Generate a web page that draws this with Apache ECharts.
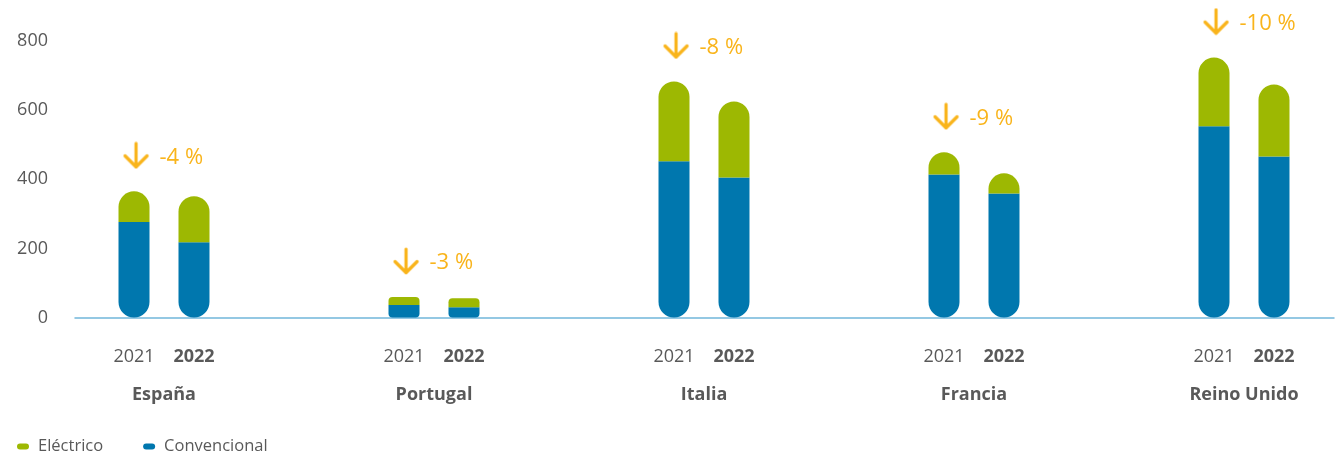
<!DOCTYPE html>
<html>
<head>
<meta charset="utf-8">
<script src="https://cdn.jsdelivr.net/npm/echarts@6/dist/echarts.min.js"></script>
<style>
html,body{margin:0;padding:0;background:#fff;}
#c{width:1341px;height:455px;}
</style>
</head>
<body>
<div id="c"></div>
<script>
// ---- data ----
const countries = ['España', 'Portugal', 'Italia', 'Francia', 'Reino Unido'];
const years = ['2021', '2022'];
const conv2021 = [276, 36, 452, 414, 553];
const elec2021 = [89, 23, 231, 64, 199];
const conv2022 = [218, 30, 405, 359, 466];
const elec2022 = [133, 26, 220, 58, 208];
const changePct = ['-4 %', '-3 %', '-8 %', '-9 %', '-10 %'];
const yMin = 0, yMax = 800, yStep = 200;

// ---- styles ----
const GREEN = '#9DB802';
const BLUE = '#0077AE';
const ORANGE = '#F9B41B';
const TEXT = '#595959';
const FONT = '"Open Sans", "Noto Sans", sans-serif';

// arrow image drawn on a canvas (synchronous)
const arrowCanvas = document.createElement('canvas');
arrowCanvas.width = 27; arrowCanvas.height = 28;
(function () {
  const g = arrowCanvas.getContext('2d');
  g.strokeStyle = ORANGE; g.lineWidth = 3.2; g.lineCap = 'round'; g.lineJoin = 'round';
  g.beginPath(); g.moveTo(13.5, 2); g.lineTo(13.5, 25); g.stroke();
  g.beginPath(); g.moveTo(2.5, 14.5); g.lineTo(13.5, 25.5); g.lineTo(24.5, 14.5); g.stroke();
})();

function items(vals, totals, top) {
  return vals.map((v, i) => {
    const r = totals[i] < 100 ? 4 : 16;
    return { value: v, itemStyle: { borderRadius: top ? [r, r, 0, 0] : [0, 0, r, r] } };
  });
}
const tot2021 = conv2021.map((v, i) => v + elec2021[i]);
const tot2022 = conv2022.map((v, i) => v + elec2022[i]);

const BAR_W = 31;
const GAP = '93.5%';
const PILL = 'path://M3,0 L9,0 A3,3 0 0 1 9,6 L3,6 A3,3 0 0 1 3,0 Z';

const chart = echarts.init(document.getElementById('c'), null, { renderer: 'canvas' });
chart.setOption({
  animation: false,
  textStyle: { fontFamily: FONT },
  grid: [
    { left: 29, width: 1350, top: 41, height: 276.5, outerBoundsMode: 'none', containLabel: false },
    { left: 75, right: 7, top: 41, height: 276.5, outerBoundsMode: 'none', containLabel: false }
  ],
  legend: {
    data: ['Eléctrico', 'Convencional'],
    left: 17, top: 438, padding: 0,
    icon: PILL, itemWidth: 12, itemHeight: 6, itemGap: 40,
    textStyle: { color: TEXT, fontSize: 16.5, fontFamily: FONT, padding: [0, 0, 0, 4] }
  },
  xAxis: [
    {
      type: 'category', gridIndex: 0, data: countries,
      axisLine: { show: false }, axisTick: { show: false },
      axisLabel: {
        margin: 27.5, interval: 0,
        formatter: c => `{a|${years[0]}}{b|${years[1]}}\n{c|${c}}`,
        rich: {
          a: { width: 60, align: 'center', fontSize: 18, color: TEXT, lineHeight: 24, fontFamily: FONT },
          b: { width: 60, align: 'center', fontSize: 18, color: TEXT, lineHeight: 24, fontWeight: 'bold', fontFamily: FONT },
          c: { width: 120, align: 'center', fontSize: 18, color: TEXT, lineHeight: 52, fontWeight: 'bold', fontFamily: FONT }
        }
      }
    },
    {
      type: 'category', gridIndex: 1, data: [''],
      axisLine: { show: true, lineStyle: { color: '#72B6DA', width: 1.5 } },
      axisTick: { show: false }, axisLabel: { show: false }
    }
  ],
  yAxis: [
    { type: 'value', gridIndex: 0, min: yMin, max: yMax, interval: yStep, show: false, splitLine: { show: false } },
    {
      type: 'value', gridIndex: 1, min: yMin, max: yMax, interval: yStep,
      axisLine: { show: false }, axisTick: { show: false }, splitLine: { show: false },
      axisLabel: { margin: 27, fontSize: 18, color: TEXT, fontFamily: FONT }
    }
  ],
  series: [
    {
      name: 'Convencional', type: 'bar', stack: 'y2021', xAxisIndex: 0, yAxisIndex: 0,
      barWidth: BAR_W, barGap: GAP, color: BLUE, itemStyle: { color: BLUE },
      data: items(conv2021, tot2021, false)
    },
    {
      name: 'Eléctrico', type: 'bar', stack: 'y2021', xAxisIndex: 0, yAxisIndex: 0,
      barWidth: BAR_W, barGap: GAP, color: GREEN, itemStyle: { color: GREEN },
      data: items(elec2021, tot2021, true),
      label: {
        show: true, position: 'top', distance: 22, align: 'left', offset: [-11.5, 0],
        formatter: p => `{i|}{t|${changePct[p.dataIndex]}}`,
        rich: {
          i: { width: 27, height: 28, backgroundColor: { image: arrowCanvas } },
          t: { color: ORANGE, fontSize: 22, fontFamily: FONT, padding: [4, 0, 0, 10] }
        }
      }
    },
    {
      name: 'Convencional', type: 'bar', stack: 'y2022', xAxisIndex: 0, yAxisIndex: 0,
      barWidth: BAR_W, barGap: GAP, color: BLUE, itemStyle: { color: BLUE },
      data: items(conv2022, tot2022, false)
    },
    {
      name: 'Eléctrico', type: 'bar', stack: 'y2022', xAxisIndex: 0, yAxisIndex: 0,
      barWidth: BAR_W, barGap: GAP, color: GREEN, itemStyle: { color: GREEN },
      data: items(elec2022, tot2022, true)
    }
  ]
});
</script>
</body>
</html>
